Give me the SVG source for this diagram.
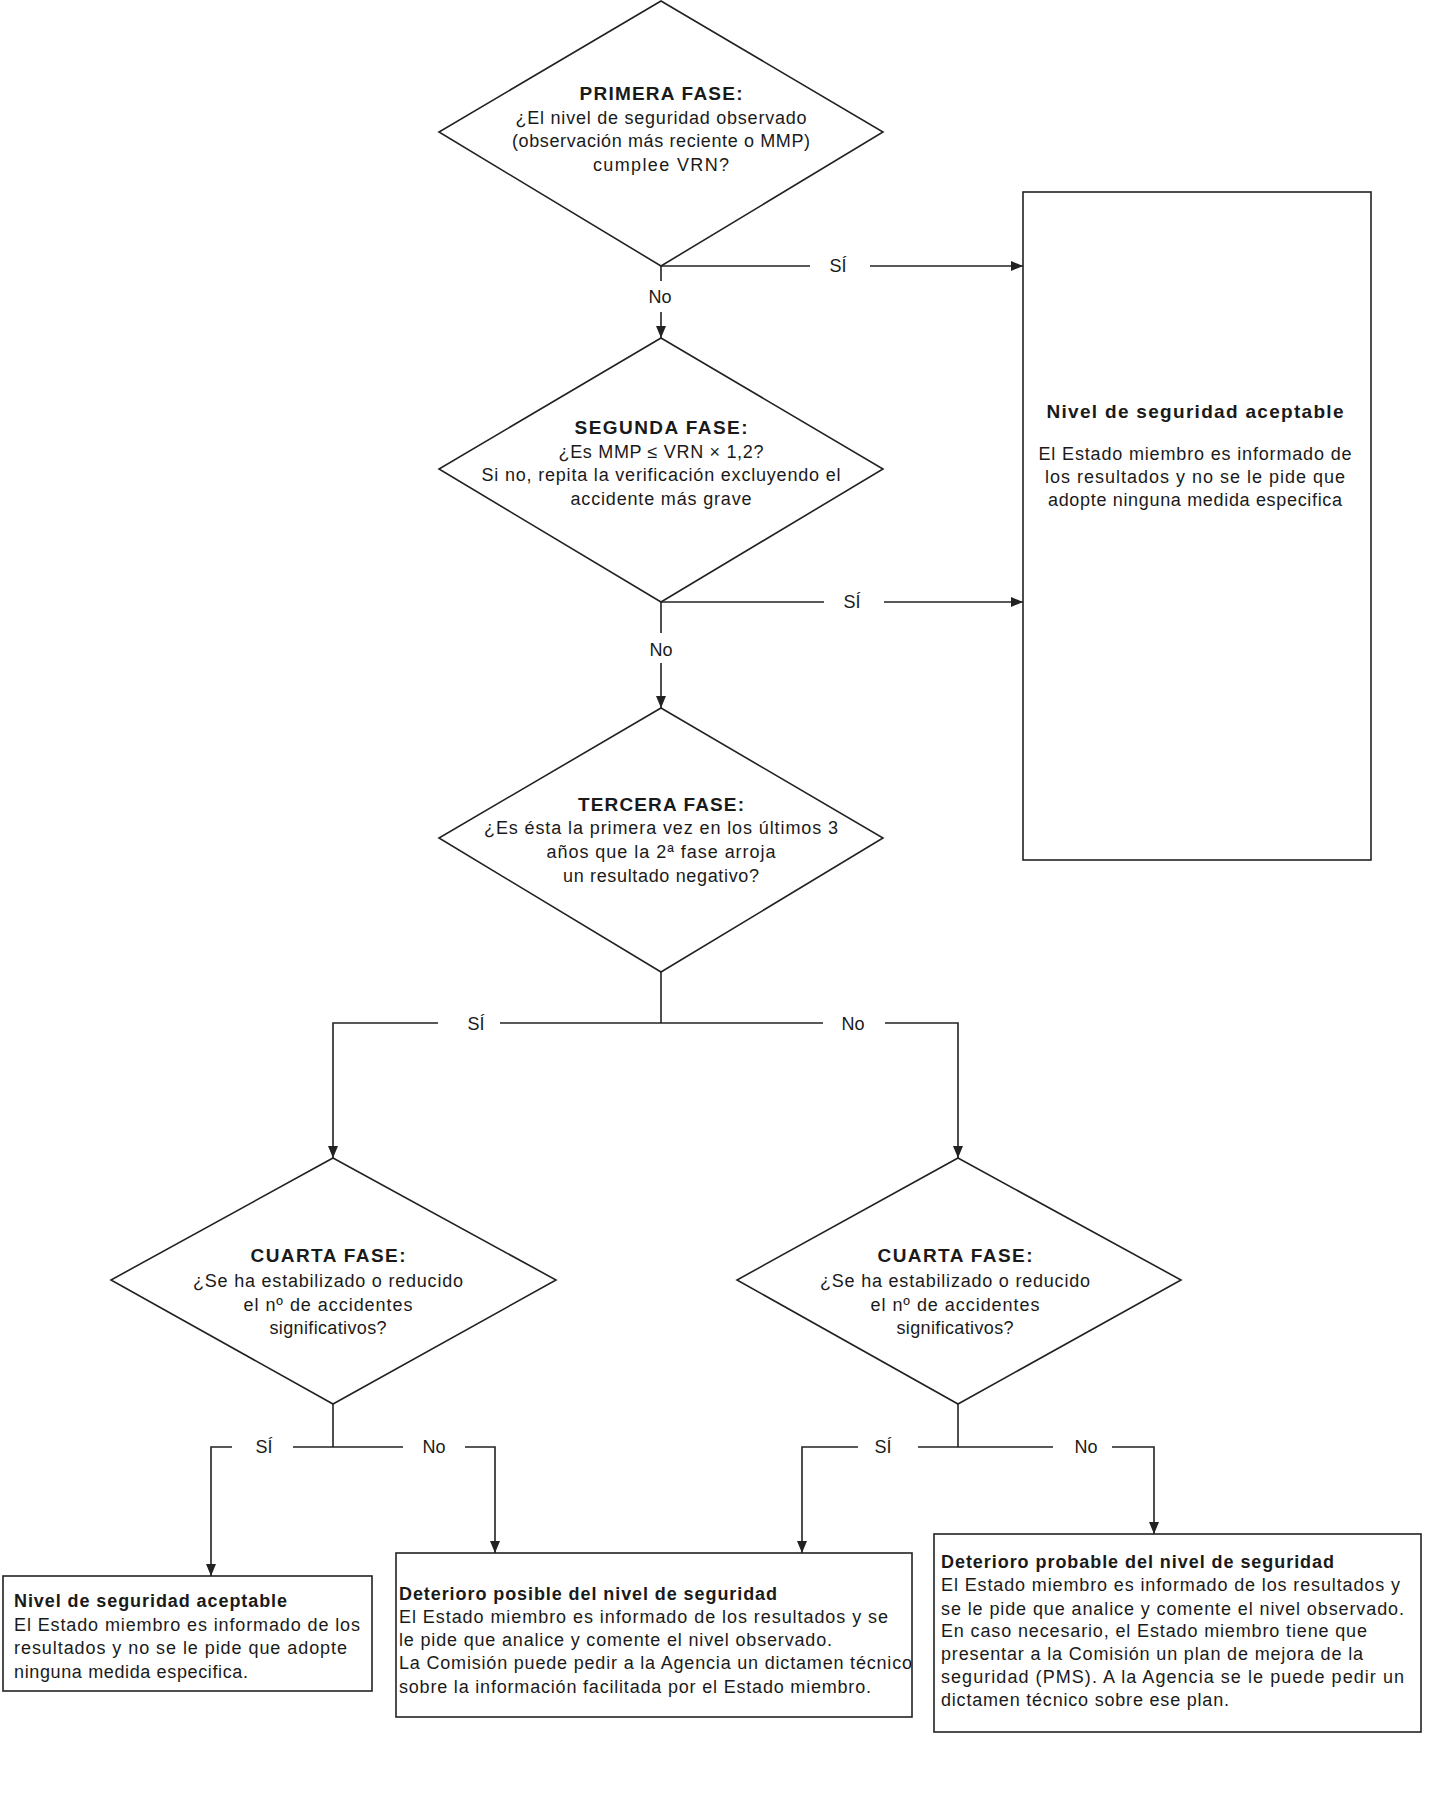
<svg xmlns="http://www.w3.org/2000/svg" width="1431" height="1797" viewBox="0 0 1431 1797">
<style>
text{font-family:"Liberation Sans",Arial,sans-serif;font-size:18px;fill:#1a1a1a}
.b{font-weight:bold}
.t{font-size:19px}
.c{text-anchor:middle}
.shape{fill:#fff;stroke:#222;stroke-width:1.6}
.ln{fill:none;stroke:#222;stroke-width:1.6}
</style>
<defs>
<marker id="ah" viewBox="0 0 12 10" markerWidth="12" markerHeight="10" refX="12" refY="5" orient="auto" markerUnits="userSpaceOnUse">
<path d="M0,0 L12,5 L0,10 z" fill="#222"/>
</marker>
</defs>
<rect width="1431" height="1797" fill="#fff"/>

<g id="connectors">
<line class="ln" x1="661" y1="266" x2="810" y2="266"/>
<line class="ln" x1="870" y1="266" x2="1023" y2="266" marker-end="url(#ah)"/>
<line class="ln" x1="661" y1="266" x2="661" y2="281"/>
<line class="ln" x1="661" y1="312" x2="661" y2="338" marker-end="url(#ah)"/>
<line class="ln" x1="661" y1="602" x2="824" y2="602"/>
<line class="ln" x1="884" y1="602" x2="1023" y2="602" marker-end="url(#ah)"/>
<line class="ln" x1="661" y1="602" x2="661" y2="633"/>
<line class="ln" x1="661" y1="663" x2="661" y2="708" marker-end="url(#ah)"/>
<line class="ln" x1="661" y1="972" x2="661" y2="1023"/>
<path class="ln" d="M438,1023 H333 V1158" marker-end="url(#ah)"/>
<line class="ln" x1="500" y1="1023" x2="823" y2="1023"/>
<path class="ln" d="M885,1023 H958 V1158" marker-end="url(#ah)"/>
<line class="ln" x1="333" y1="1404" x2="333" y2="1447"/>
<path class="ln" d="M232,1447 H211 V1576" marker-end="url(#ah)"/>
<line class="ln" x1="293" y1="1447" x2="403" y2="1447"/>
<path class="ln" d="M465,1447 H495 V1553" marker-end="url(#ah)"/>
<line class="ln" x1="958" y1="1404" x2="958" y2="1447"/>
<path class="ln" d="M858,1447 H802 V1553" marker-end="url(#ah)"/>
<line class="ln" x1="918" y1="1447" x2="1053" y2="1447"/>
<path class="ln" d="M1112,1447 H1154 V1534" marker-end="url(#ah)"/>
<text class="c" x="838" y="272">SÍ</text>
<text class="c" x="660" y="303">No</text>
<text class="c" x="852" y="608">SÍ</text>
<text class="c" x="661" y="656">No</text>
<text class="c" x="476" y="1030">SÍ</text>
<text class="c" x="853" y="1030">No</text>
<text class="c" x="264" y="1453">SÍ</text>
<text class="c" x="434" y="1453">No</text>
<text class="c" x="883" y="1453">SÍ</text>
<text class="c" x="1086" y="1453">No</text>
</g>

<g id="fase1">
<polygon class="shape" points="661,1 883,132 661,266 439,132"/>
<text class="c b t" x="661" y="100" textLength="163">PRIMERA FASE:</text>
<text class="c" x="661" y="124" textLength="291">¿El nivel de seguridad observado</text>
<text class="c" x="661" y="147" textLength="298">(observación más reciente o MMP)</text>
<text class="c" x="661" y="171" textLength="136">cumplee VRN?</text>
</g>

<g id="fase2">
<polygon class="shape" points="661,338 883,469 661,602 439,469"/>
<text class="c b t" x="661" y="434" textLength="173">SEGUNDA FASE:</text>
<text class="c" x="661" y="458" textLength="205">¿Es MMP ≤ VRN × 1,2?</text>
<text class="c" x="661" y="481" textLength="359">Si no, repita la verificación excluyendo el</text>
<text class="c" x="661" y="505" textLength="181">accidente más grave</text>
</g>

<g id="fase3">
<polygon class="shape" points="661,708 883,838 661,972 439,838"/>
<text class="c b t" x="661" y="811" textLength="166">TERCERA FASE:</text>
<text class="c" x="661" y="834" textLength="354">¿Es ésta la primera vez en los últimos 3</text>
<text class="c" x="661" y="858" textLength="229">años que la 2ª fase arroja</text>
<text class="c" x="661" y="882" textLength="196">un resultado negativo?</text>
</g>

<g id="aceptable1">
<rect class="shape" x="1023" y="192" width="348" height="668"/>
<text class="c b t" x="1195" y="418" textLength="297">Nivel de seguridad aceptable</text>
<text class="c" x="1195" y="460" textLength="313">El Estado miembro es informado de</text>
<text class="c" x="1195" y="483" textLength="300">los resultados y no se le pide que</text>
<text class="c" x="1195" y="506" textLength="294">adopte ninguna medida especifica</text>
</g>

<g id="fase4a">
<polygon class="shape" points="333,1158 556,1280 333,1404 111,1280"/>
<text class="c b t" x="328" y="1262" textLength="155">CUARTA FASE:</text>
<text class="c" x="328" y="1287" textLength="270">¿Se ha estabilizado o reducido</text>
<text class="c" x="328" y="1311" textLength="169">el nº de accidentes</text>
<text class="c" x="328" y="1334" textLength="117">significativos?</text>
</g>

<g id="fase4b">
<polygon class="shape" points="958,1158 1181,1280 958,1404 737,1280"/>
<text class="c b t" x="955" y="1262" textLength="155">CUARTA FASE:</text>
<text class="c" x="955" y="1287" textLength="270">¿Se ha estabilizado o reducido</text>
<text class="c" x="955" y="1311" textLength="169">el nº de accidentes</text>
<text class="c" x="955" y="1334" textLength="117">significativos?</text>
</g>

<g id="aceptable2">
<rect class="shape" x="3" y="1576" width="369" height="115"/>
<text class="b" x="14" y="1607" textLength="273">Nivel de seguridad aceptable</text>
<text x="14" y="1631" textLength="346">El Estado miembro es informado de los</text>
<text x="14" y="1654" textLength="333">resultados y no se le pide que adopte</text>
<text x="14" y="1678" textLength="234">ninguna medida especifica.</text>
</g>

<g id="posible">
<rect class="shape" x="396" y="1553" width="516" height="164"/>
<text class="b" x="399" y="1600" textLength="378">Deterioro posible del nivel de seguridad</text>
<text x="399" y="1623" textLength="489">El Estado miembro es informado de los resultados y se</text>
<text x="399" y="1646" textLength="433">le pide que analice y comente el nivel observado.</text>
<text x="399" y="1669" textLength="513">La Comisión puede pedir a la Agencia un dictamen técnico</text>
<text x="399" y="1693" textLength="472">sobre la información facilitada por el Estado miembro.</text>
</g>

<g id="probable">
<rect class="shape" x="934" y="1534" width="487" height="198"/>
<text class="b" x="941" y="1568" textLength="393">Deterioro probable del nivel de seguridad</text>
<text x="941" y="1591" textLength="459">El Estado miembro es informado de los resultados y</text>
<text x="941" y="1615" textLength="463">se le pide que analice y comente el nivel observado.</text>
<text x="941" y="1637" textLength="426">En caso necesario, el Estado miembro tiene que</text>
<text x="941" y="1660" textLength="422">presentar a la Comisión un plan de mejora de la</text>
<text x="941" y="1683" textLength="463">seguridad (PMS). A la Agencia se le puede pedir un</text>
<text x="941" y="1706" textLength="288">dictamen técnico sobre ese plan.</text>
</g>
</svg>
